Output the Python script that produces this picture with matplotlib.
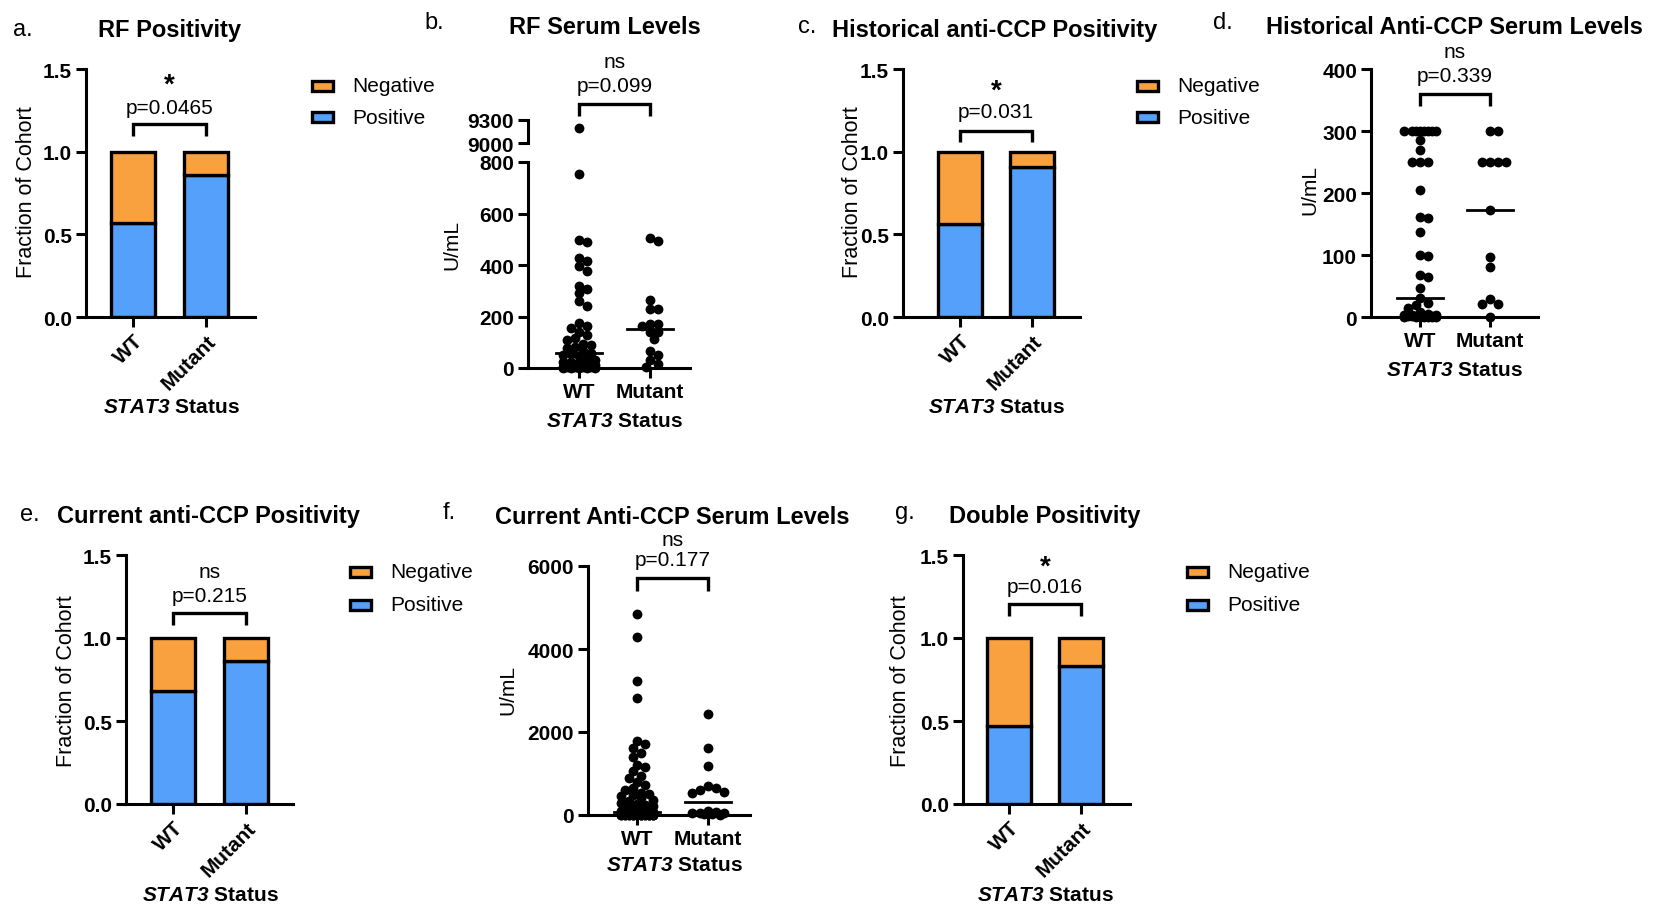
import numpy as np
import matplotlib
matplotlib.use('Agg')
import matplotlib.pyplot as plt
from matplotlib.patches import Rectangle
from matplotlib.transforms import blended_transform_factory

plt.rcParams['font.family'] = 'Liberation Sans'
plt.rcParams['mathtext.fontset'] = 'custom'
plt.rcParams['mathtext.rm'] = 'Liberation Sans:italic:bold'
plt.rcParams['mathtext.it'] = 'Liberation Sans:italic:bold'

groups = ['WT', 'Mutant']

# fraction of cohort that is positive (negative = 1 - positive)
rf_pos = [0.57, 0.86]
hist_ccp_pos = [0.56, 0.91]
curr_ccp_pos = [0.68, 0.86]
double_pos = [0.47, 0.83]

# serum levels, U/mL
rf_wt = [9200, 755, 499, 490, 429, 416, 396, 376, 318, 305, 290, 259, 239, 174, 165,
         154, 140, 128, 115, 108, 95, 89, 80, 76, 66, 60,
         56, 50, 45, 37, 30, 25, 22, 20, 18, 15, 12, 10, 10, 8, 6, 5, 5, 4, 3, 2, 2,
         1, 1, 0, 0, 0]
rf_mut = [505, 495, 263, 231, 231, 172, 172, 163, 138, 138, 112, 67, 50, 31, 15, 4]

hist_wt = [300, 300, 300, 300, 300, 300, 300, 300, 285, 270, 250, 250, 250, 205, 162,
           160, 137, 100, 98, 67, 65, 47, 30, 22, 20, 15, 8, 5, 4, 3, 3, 2, 2, 2, 1, 1,
           1, 1, 0, 0, 0, 0, 0, 0, 0]
hist_mut = [300, 300, 250, 250, 250, 250, 173, 97, 80, 29, 21, 21, 0]

curr_wt = [4850, 4280, 3230, 2820, 1780, 1700, 1620, 1500, 1400, 1200, 1150, 1050, 950,
           880, 800, 720, 650, 600, 540, 500, 480, 450, 400, 370, 330, 300, 270, 240,
           210, 180, 150, 130, 110, 95, 90, 85, 75, 70, 65, 60, 55, 50, 45, 40, 40, 35,
           30, 30, 28, 25, 22, 20, 18, 16, 15, 14, 12, 10, 9, 8, 7, 6, 5, 5, 4, 3, 3,
           2, 2, 2, 1, 1, 1, 0, 0, 0, 0, 0]
curr_mut = [2445, 1620, 1180, 700, 650, 600, 560, 540, 100, 80, 60, 50, 40, 30, 15, 5]

ORANGE = '#F9A03F'
BLUE = '#55A0FB'
W, H = 1654, 920
DOT = 50

fig = plt.figure(figsize=(W / 100, H / 100), dpi=100)


def rect(x0, y0, x1, y1):
    return [x0 / W, 1 - y1 / H, (x1 - x0) / W, (y1 - y0) / H]


def xlims(x0, x1, t0, t1):
    u = t1 - t0
    return (x0 - t0) / u, (x1 - t0) / u


def style(ax):
    for s in ['top', 'right']:
        ax.spines[s].set_visible(False)
    for s in ['left', 'bottom']:
        ax.spines[s].set_linewidth(2.2)
    ax.tick_params(width=2.2, length=7, labelsize=15, pad=3)
    for lab in ax.get_xticklabels() + ax.get_yticklabels():
        lab.set_fontweight('bold')


def bar_panel(box, ticks, pos):
    ax = fig.add_axes(rect(*box))
    x = np.arange(len(groups))
    neg = [1 - p for p in pos]
    ax.bar(x, pos, 0.6, color=BLUE, edgecolor='black', linewidth=2.4, zorder=2)
    ax.bar(x, neg, 0.6, bottom=pos, color=ORANGE, edgecolor='black', linewidth=2.4, zorder=2)
    ax.set_xlim(*xlims(box[0], box[2], *ticks))
    ax.set_ylim(0, 1.5)
    ax.set_yticks([0, 0.5, 1.0, 1.5], ['0.0', '0.5', '1.0', '1.5'])
    ax.set_xticks(x, groups, rotation=45, ha='right', rotation_mode='anchor')
    style(ax)
    return ax


def swarm(vals, ppu, d=9.0, maxw=18.0):
    # simple beeswarm in pixel units, allowing some overlap like the original
    ys = np.asarray(vals, float) * ppu
    cands = [0.0]
    k = 1
    while k * d * 0.45 <= maxw:
        cands += [k * d * 0.45, -k * d * 0.45]
        k += 1
    xs = np.zeros(len(ys))
    px, py = [], []
    for i in np.argsort(-ys, kind='stable'):
        best, bestd = 0.0, -1.0
        for c in cands:
            dist = np.min(np.hypot(np.array(px) - c, np.array(py) - ys[i])) if px else np.inf
            if dist >= d * 0.8:
                best = c
                break
            if dist > bestd:
                bestd, best = dist, c
        xs[i] = best
        px.append(best)
        py.append(ys[i])
    return xs


def dots(ax, series, box, ticks, ylim, cap=None):
    ppu_y = (box[3] - box[1]) / (ylim[1] - ylim[0])
    ppu_x = ticks[1] - ticks[0]
    for i, vals in enumerate(series):
        v = np.array(vals, float)
        low = v if cap is None else v[v <= cap]
        off = swarm(low, ppu_y) / ppu_x
        ax.scatter(i + off, low, s=DOT, color='black', lw=0, clip_on=False, zorder=4)
        med = np.median(v)
        ax.plot([i - 0.33, i + 0.33], [med, med], color='black', lw=2, zorder=5)


def scatter_panel(box, ticks, series, ylim, yticks):
    ax = fig.add_axes(rect(*box))
    ax.set_xlim(*xlims(box[0], box[2], *ticks))
    ax.set_ylim(*ylim)
    ax.set_yticks(yticks)
    ax.set_xticks(range(len(groups)), groups)
    dots(ax, series, box, ticks, ylim)
    style(ax)
    return ax


def bracket(ax, y_top, y_leg, texts):
    tr = blended_transform_factory(ax.transData, fig.transFigure)
    yt, yl = 1 - y_top / H, 1 - y_leg / H
    ax.plot([0, 0, 1, 1], [yl, yt, yt, yl], transform=tr, color='black', lw=2.4,
            clip_on=False, solid_joinstyle='miter', solid_capstyle='butt')
    for txt, y in texts:
        if txt == '*':
            ax.text(0.5, 1 - y / H, txt, transform=tr, ha='center', va='center',
                    fontsize=20, fontweight='bold')
        else:
            ax.text(0.5, 1 - y / H, txt, transform=tr, ha='center', va='center', fontsize=15)


def legend(x, y1, y2):
    for lab, col, y in [('Negative', ORANGE, y1), ('Positive', BLUE, y2)]:
        fig.patches.append(Rectangle((x / W, 1 - (y + 5) / H), 21 / W, 10 / H,
                                     transform=fig.transFigure, facecolor=col,
                                     edgecolor='black', linewidth=2.4))
        fig.text((x + 40) / W, 1 - y / H, lab, ha='left', va='center', fontsize=15)


def label(x, y, s, **kw):
    fig.text(x / W, 1 - y / H, s, ha='center', va='center', **kw)


def xlabel(x, y):
    label(x, y, r'$\mathrm{STAT3}$ Status', fontsize=15, fontweight='bold')


# a. RF positivity
ax = bar_panel((86, 70, 255, 318), (133, 206), rf_pos)
bracket(ax, 125, 137, [('*', 86), ('p=0.0465', 108)])
legend(312, 87, 118)
label(170, 30, 'RF Positivity', fontsize=17, fontweight='bold')
fig.text(13 / W, 1 - 30 / H, 'a.', ha='left', va='center', fontsize=17)
label(27, 192, 'Fraction of Cohort', fontsize=15.5, rotation=90)
xlabel(171, 408)

# b. RF serum levels, broken axis
box_b = (528, 163, 690, 369)
ticks_b = (579, 650)
ax = fig.add_axes(rect(*box_b))
ax.set_xlim(*xlims(box_b[0], box_b[2], *ticks_b))
ax.set_ylim(0, 800)
ax.set_yticks([0, 200, 400, 600, 800])
ax.set_xticks(range(len(groups)), groups)
dots(ax, [rf_wt, rf_mut], box_b, ticks_b, (0, 800), cap=800)
style(ax)
ax_top = fig.add_axes(rect(528, 121, 690, 144))
ax_top.set_xlim(ax.get_xlim())
ax_top.set_ylim(9000, 9300)
ax_top.set_yticks([9000, 9300])
ax_top.set_xticks([])
hi = [v for v in rf_wt if v > 800]
ax_top.scatter(np.zeros(len(hi)), hi, s=DOT, color='black', lw=0, clip_on=False, zorder=4)
style(ax_top)
ax_top.spines['bottom'].set_visible(False)
bracket(ax, 105, 117, [('ns', 63), ('p=0.099', 87)])
label(605, 28, 'RF Serum Levels', fontsize=17, fontweight='bold')
fig.text(424 / W, 1 - 23 / H, 'b.', ha='left', va='center', fontsize=17)
label(452, 245, 'U/mL', fontsize=15, rotation=90)
xlabel(614, 422)

# c. historical anti-CCP positivity
ax = bar_panel((903, 70, 1080, 318), (960, 1032), hist_ccp_pos)
bracket(ax, 132, 143, [('*', 92), ('p=0.031', 112)])
legend(1137, 87, 118)
label(995, 30, 'Historical anti-CCP Positivity', fontsize=17, fontweight='bold')
fig.text(798 / W, 1 - 27 / H, 'c.', ha='left', va='center', fontsize=17)
label(852, 192, 'Fraction of Cohort', fontsize=15.5, rotation=90)
xlabel(996, 408)

# d. historical anti-CCP serum levels
ax = scatter_panel((1371, 70, 1538, 318), (1420, 1490), [hist_wt, hist_mut],
                   (0, 400), [0, 100, 200, 300, 400])
bracket(ax, 95, 107, [('ns', 53), ('p=0.339', 76)])
label(1454, 28, 'Historical Anti-CCP Serum Levels', fontsize=17, fontweight='bold')
fig.text(1213 / W, 1 - 23 / H, 'd.', ha='left', va='center', fontsize=17)
label(1310, 190, 'U/mL', fontsize=15, rotation=90)
xlabel(1454, 371)

# e. current anti-CCP positivity
ax = bar_panel((126, 556, 293, 805), (173, 246), curr_ccp_pos)
bracket(ax, 614, 626, [('ns', 573), ('p=0.215', 597)])
legend(350, 573, 606)
label(208, 517, 'Current anti-CCP Positivity', fontsize=17, fontweight='bold')
fig.text(20 / W, 1 - 515 / H, 'e.', ha='left', va='center', fontsize=17)
label(67, 681, 'Fraction of Cohort', fontsize=15.5, rotation=90)
xlabel(210, 896)

# f. current anti-CCP serum levels
ax = scatter_panel((588, 567, 750, 816), (637, 708), [curr_wt, curr_mut],
                   (0, 6000), [0, 2000, 4000, 6000])
bracket(ax, 579, 592, [('ns', 540), ('p=0.177', 561)])
label(672, 517, 'Current Anti-CCP Serum Levels', fontsize=17, fontweight='bold')
fig.text(443 / W, 1 - 513 / H, 'f.', ha='left', va='center', fontsize=17)
label(508, 690, 'U/mL', fontsize=15, rotation=90)
xlabel(674, 866)

# g. double positivity
ax = bar_panel((963, 556, 1130, 805), (1009, 1081), double_pos)
bracket(ax, 605, 617, [('*', 568), ('p=0.016', 588)])
legend(1187, 573, 606)
label(1045, 517, 'Double Positivity', fontsize=17, fontweight='bold')
fig.text(895 / W, 1 - 513 / H, 'g.', ha='left', va='center', fontsize=17)
label(901, 681, 'Fraction of Cohort', fontsize=15.5, rotation=90)
xlabel(1045, 896)

fig.savefig('out.png', dpi=100)
